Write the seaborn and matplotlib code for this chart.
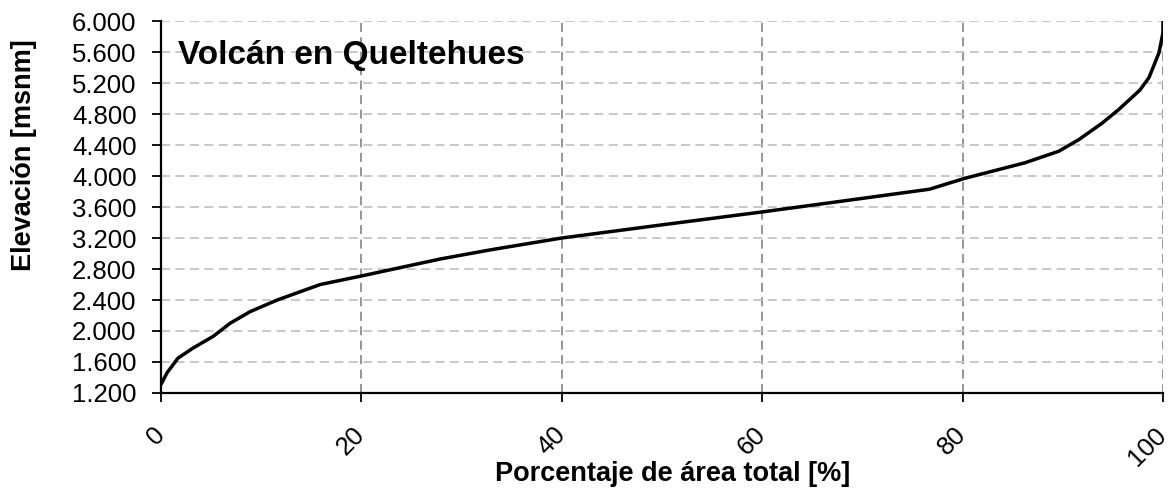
import pandas as pd
import matplotlib
matplotlib.use('Agg')
import matplotlib.pyplot as plt
import matplotlib.ticker as mticker
import seaborn as sns

# Curva hipsométrica - Volcán en Queltehues
pct_area = [0, 0.6, 1.7, 3.2, 5.2, 6.9, 8.9, 11.6, 15.9, 20, 27.9, 33, 40, 50,
            60.2, 69.9, 76.7, 80.2, 86.2, 89.6, 91.6, 93.9, 95.6, 97.7, 98.6,
            99.6, 100, 100]
elevacion = [1310, 1460, 1650, 1780, 1930, 2100, 2250, 2400, 2600, 2710, 2930,
             3050, 3200, 3370, 3540, 3710, 3830, 3970, 4170, 4320, 4470, 4680,
             4860, 5110, 5270, 5590, 5850, 5990]
x_ticks = [0, 20, 40, 60, 80, 100]
y_ticks = list(range(1200, 6001, 400))

df = pd.DataFrame({'pct': pct_area, 'elev': elevacion})

sns.set_style('white')
plt.rcParams['font.family'] = ['Liberation Sans', 'DejaVu Sans']
plt.rcParams['text.color'] = 'black'
plt.rcParams['axes.labelcolor'] = 'black'

fig = plt.figure(figsize=(11.7, 4.9), dpi=100)
ax = fig.add_axes([0.1376, 0.198, 0.8564, 0.759])

sns.lineplot(data=df, x='pct', y='elev', ax=ax, color='black', linewidth=2.5,
             estimator=None, sort=False)

ax.set_xlim(0, 100)
ax.set_ylim(1200, 6000)
ax.set_xticks(x_ticks)
ax.set_yticks(y_ticks)
ax.yaxis.set_major_formatter(mticker.FuncFormatter(lambda v, p: f"{v:,.0f}".replace(',', '.')))

ax.grid(axis='y', linestyle=(0, (5, 3)), color='#c4c4c4', linewidth=1.3)
ax.grid(axis='x', linestyle=(0, (5, 3)), color='#8c8c8c', linewidth=1.3)

for s in ['top', 'right']:
    ax.spines[s].set_visible(False)
for s in ['left', 'bottom']:
    ax.spines[s].set_color('black')
    ax.spines[s].set_linewidth(1.6)

ax.tick_params(axis='both', direction='out', length=6.5, width=1.3, color='black',
               labelcolor='black', labelsize=18.5, left=True, bottom=True)
ax.tick_params(axis='y', pad=11)
ax.tick_params(axis='x', pad=21)
for lbl in ax.get_xticklabels():
    lbl.set_rotation(45)
    lbl.set_ha('right')
    lbl.set_va('center')
    lbl.set_rotation_mode('anchor')

ax.set_xlabel('Porcentaje de área total [%]', fontsize=19.5, fontweight='bold')
ax.set_ylabel('Elevación [msnm]', fontsize=19.5, fontweight='bold')
ax.xaxis.set_label_coords(0.511, -0.182)
ax.yaxis.set_label_coords(-0.124, 0.64)

ax.text(0.017, 0.95, 'Volcán en Queltehues', transform=ax.transAxes,
        fontsize=24, fontweight='bold', va='top', ha='left')

fig.savefig('out.png', dpi=100)
